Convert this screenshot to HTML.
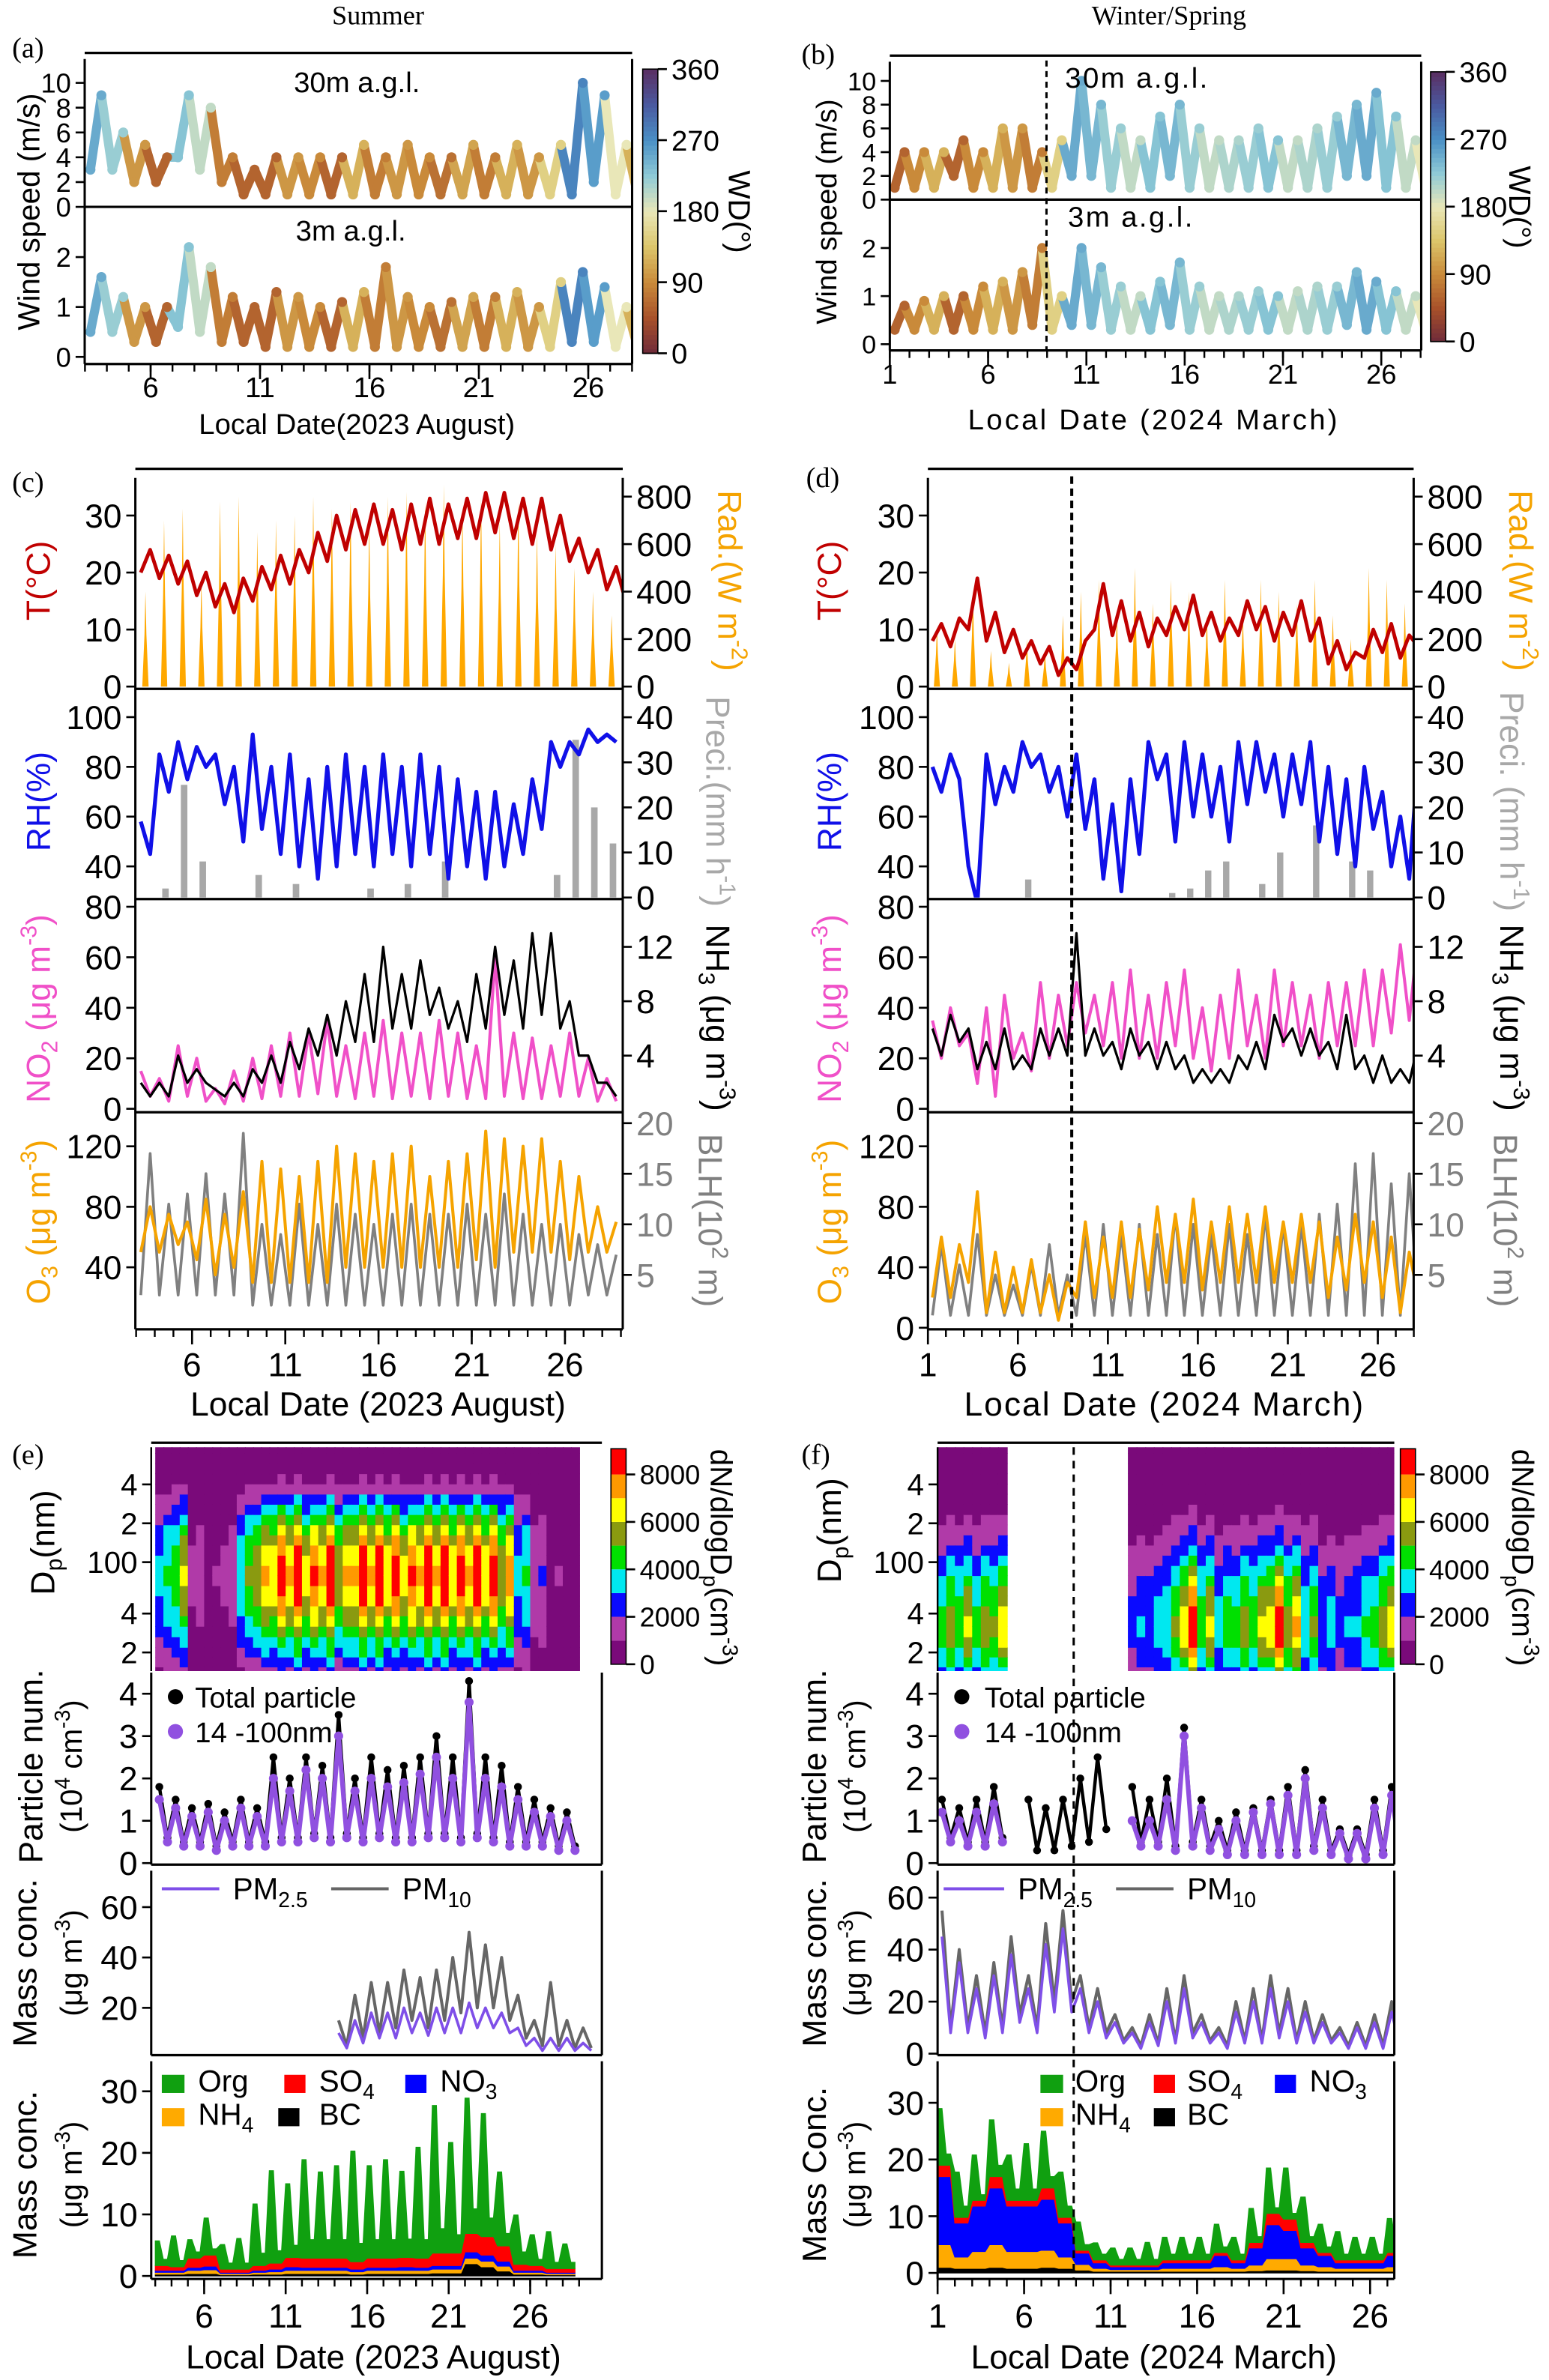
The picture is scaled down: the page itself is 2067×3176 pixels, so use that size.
<!DOCTYPE html>
<html><head><meta charset="utf-8"><title>Meteorology and aerosol time series</title>
<style>html,body{margin:0;padding:0;background:#fff}svg{display:block}text{font-family:"Liberation Sans",Arial,sans-serif}.serif{font-family:"Liberation Serif",serif}</style></head>
<body>
<svg id="fig" xmlns="http://www.w3.org/2000/svg" width="2067" height="3176" viewBox="0 0 1024.3 1573.8" preserveAspectRatio="none">
<rect x="0" y="0" width="1024.3" height="1573.8" fill="#fff"/>
<g id="marks"></g>
<g id="static" fill="#000">
<text class="serif" x="250" y="16" font-size="18" text-anchor="middle">Summer</text>
<text class="serif" x="773" y="16" font-size="18" text-anchor="middle">Winter/Spring</text>
<text class="serif" x="8" y="38" font-size="19">(a)</text>
<text class="serif" x="530" y="42" font-size="19">(b)</text>
<text class="serif" x="8" y="325" font-size="19">(c)</text>
<text class="serif" x="533" y="322" font-size="19">(d)</text>
<text class="serif" x="8" y="968" font-size="19">(e)</text>
<text class="serif" x="530" y="968" font-size="19">(f)</text>

<!-- (a) -->
<text transform="translate(26,140) rotate(-90)" font-size="20" text-anchor="middle">Wind speed (m/s)</text>
<text x="236" y="61" font-size="19" text-anchor="middle">30m a.g.l.</text>
<text x="232" y="159" font-size="19" text-anchor="middle">3m a.g.l.</text>
<text transform="translate(482,140) rotate(90)" font-size="20" text-anchor="middle">WD(°)</text>
<text x="236" y="287" font-size="19" text-anchor="middle">Local Date(2023 August)</text>
<!-- (b) -->
<text transform="translate(553,140) rotate(-90)" font-size="19" text-anchor="middle">Wind speed (m/s)</text>
<text x="752" y="58" font-size="19" text-anchor="middle" letter-spacing="1.2">30m a.g.l.</text>
<text x="748" y="150" font-size="19" text-anchor="middle" letter-spacing="1.2">3m a.g.l.</text>
<text transform="translate(998,137) rotate(90)" font-size="20" text-anchor="middle">WD(°)</text>
<text x="763" y="284" font-size="19" text-anchor="middle" letter-spacing="1.6">Local Date (2024 March)</text>

<!-- (c) -->
<text transform="translate(33,384) rotate(-90)" font-size="22" fill="#c00000" text-anchor="middle">T(°C)</text>
<text transform="translate(33,530) rotate(-90)" font-size="22" fill="#1010e8" text-anchor="middle">RH(%)</text>
<text transform="translate(33,667) rotate(-90)" font-size="22" fill="#f050c8" text-anchor="middle">NO<tspan font-size="15" dy="5">2</tspan><tspan dy="-5"> (μg m</tspan><tspan font-size="15" dy="-9">-3</tspan><tspan dy="9">)</tspan></text>
<text transform="translate(33,808) rotate(-90)" font-size="22" fill="#f5a300" text-anchor="middle">O<tspan font-size="15" dy="5">3</tspan><tspan dy="-5"> (μg m</tspan><tspan font-size="15" dy="-9">-3</tspan><tspan dy="9">)</tspan></text>
<text transform="translate(475,384) rotate(90)" font-size="22" fill="#f5a300" text-anchor="middle">Rad.(W m<tspan font-size="15" dy="-9">-2</tspan><tspan dy="9">)</tspan></text>
<text transform="translate(467,530) rotate(90)" font-size="22" fill="#a8a8a8" text-anchor="middle">Preci.(mm h<tspan font-size="15" dy="-9">-1</tspan><tspan dy="9">)</tspan></text>
<text transform="translate(467,673) rotate(90)" font-size="22" fill="#000" text-anchor="middle">NH<tspan font-size="15" dy="5">3</tspan><tspan dy="-5"> (μg m</tspan><tspan font-size="15" dy="-9">-3</tspan><tspan dy="9">)</tspan></text>
<text transform="translate(462,807) rotate(90)" font-size="22" fill="#808080" text-anchor="middle">BLH(10<tspan font-size="15" dy="-9">2</tspan><tspan dy="9"> m)</tspan></text>
<text x="250" y="936" font-size="22" text-anchor="middle">Local Date (2023 August)</text>
<!-- (d) -->
<text transform="translate(556,384) rotate(-90)" font-size="22" fill="#c00000" text-anchor="middle">T(°C)</text>
<text transform="translate(556,530) rotate(-90)" font-size="22" fill="#1010e8" text-anchor="middle">RH(%)</text>
<text transform="translate(556,667) rotate(-90)" font-size="22" fill="#f050c8" text-anchor="middle">NO<tspan font-size="15" dy="5">2</tspan><tspan dy="-5"> (μg m</tspan><tspan font-size="15" dy="-9">-3</tspan><tspan dy="9">)</tspan></text>
<text transform="translate(556,808) rotate(-90)" font-size="22" fill="#f5a300" text-anchor="middle">O<tspan font-size="15" dy="5">3</tspan><tspan dy="-5"> (μg m</tspan><tspan font-size="15" dy="-9">-3</tspan><tspan dy="9">)</tspan></text>
<text transform="translate(998,384) rotate(90)" font-size="22" fill="#f5a300" text-anchor="middle">Rad.(W m<tspan font-size="15" dy="-9">-2</tspan><tspan dy="9">)</tspan></text>
<text transform="translate(992,530) rotate(90)" font-size="22" fill="#a8a8a8" text-anchor="middle">Preci. (mm h<tspan font-size="15" dy="-9">-1</tspan><tspan dy="9">)</tspan></text>
<text transform="translate(992,673) rotate(90)" font-size="22" fill="#000" text-anchor="middle">NH<tspan font-size="15" dy="5">3</tspan><tspan dy="-5"> (μg m</tspan><tspan font-size="15" dy="-9">-3</tspan><tspan dy="9">)</tspan></text>
<text transform="translate(988,807) rotate(90)" font-size="22" fill="#808080" text-anchor="middle">BLH(10<tspan font-size="15" dy="-9">2</tspan><tspan dy="9"> m)</tspan></text>
<text x="770" y="936" font-size="22" text-anchor="middle" letter-spacing="1">Local Date (2024 March)</text>

<!-- (e) -->
<text transform="translate(36,1020) rotate(-90)" font-size="22" text-anchor="middle">D<tspan font-size="15" dy="5">p</tspan><tspan dy="-5">(nm)</tspan></text>
<text transform="translate(470,1030) rotate(90)" font-size="20" text-anchor="middle">dN/dlogD<tspan font-size="14" dy="5">p</tspan><tspan dy="-5">(cm</tspan><tspan font-size="14" dy="-8">-3</tspan><tspan dy="8">)</tspan></text>
<text transform="translate(28,1168) rotate(-90)" font-size="22" text-anchor="middle">Particle num.</text>
<text transform="translate(54,1168) rotate(-90)" font-size="20" text-anchor="middle">(10<tspan font-size="14" dy="-8">4</tspan><tspan dy="8"> cm</tspan><tspan font-size="14" dy="-8">-3</tspan><tspan dy="8">)</tspan></text>
<text transform="translate(24,1298) rotate(-90)" font-size="22" text-anchor="middle">Mass conc.</text>
<text transform="translate(54,1298) rotate(-90)" font-size="20" text-anchor="middle">(μg m<tspan font-size="14" dy="-8">-3</tspan><tspan dy="8">)</tspan></text>
<text transform="translate(24,1438) rotate(-90)" font-size="22" text-anchor="middle">Mass conc.</text>
<text transform="translate(54,1438) rotate(-90)" font-size="20" text-anchor="middle">(μg m<tspan font-size="14" dy="-8">-3</tspan><tspan dy="8">)</tspan></text>
<text x="247" y="1566" font-size="22" text-anchor="middle">Local Date (2023 August)</text>
<!-- e legends -->
<circle cx="116" cy="1122" r="5" fill="#000"/>
<text x="129" y="1129" font-size="19">Total particle</text>
<circle cx="116" cy="1145" r="5" fill="#9050e0"/>
<text x="129" y="1152" font-size="19">14 -100nm</text>
<line x1="107" y1="1249" x2="145" y2="1249" stroke="#7f4fe8" stroke-width="2"/>
<text x="154" y="1256" font-size="20">PM<tspan font-size="14" dy="5">2.5</tspan></text>
<line x1="219" y1="1249" x2="257" y2="1249" stroke="#666" stroke-width="2"/>
<text x="266" y="1256" font-size="20">PM<tspan font-size="14" dy="5">10</tspan></text>
<rect x="107" y="1372" width="15" height="12" fill="#10a010"/>
<text x="131" y="1383" font-size="20">Org</text>
<rect x="188" y="1372" width="14" height="12" fill="#ff0000"/>
<text x="211" y="1383" font-size="20">SO<tspan font-size="14" dy="5">4</tspan></text>
<rect x="268" y="1372" width="14" height="12" fill="#0000ff"/>
<text x="291" y="1383" font-size="20">NO<tspan font-size="14" dy="5">3</tspan></text>
<rect x="107" y="1394" width="15" height="12" fill="#ffaa00"/>
<text x="131" y="1405" font-size="20">NH<tspan font-size="14" dy="5">4</tspan></text>
<rect x="184" y="1394" width="14" height="12" fill="#000"/>
<text x="211" y="1405" font-size="20">BC</text>

<!-- (f) -->
<text transform="translate(556,1012) rotate(-90)" font-size="22" text-anchor="middle">D<tspan font-size="15" dy="5">p</tspan><tspan dy="-5">(nm)</tspan></text>
<text transform="translate(1000,1030) rotate(90)" font-size="20" text-anchor="middle">dN/dlogD<tspan font-size="14" dy="5">p</tspan><tspan dy="-5">(cm</tspan><tspan font-size="14" dy="-8">-3</tspan><tspan dy="8">)</tspan></text>
<text transform="translate(546,1168) rotate(-90)" font-size="22" text-anchor="middle">Particle num.</text>
<text transform="translate(572,1168) rotate(-90)" font-size="20" text-anchor="middle">(10<tspan font-size="14" dy="-8">4</tspan><tspan dy="8"> cm</tspan><tspan font-size="14" dy="-8">-3</tspan><tspan dy="8">)</tspan></text>
<text transform="translate(546,1298) rotate(-90)" font-size="22" text-anchor="middle">Mass conc.</text>
<text transform="translate(572,1298) rotate(-90)" font-size="20" text-anchor="middle">(μg m<tspan font-size="14" dy="-8">-3</tspan><tspan dy="8">)</tspan></text>
<text transform="translate(546,1438) rotate(-90)" font-size="22" text-anchor="middle">Mass Conc.</text>
<text transform="translate(572,1438) rotate(-90)" font-size="20" text-anchor="middle">(μg m<tspan font-size="14" dy="-8">-3</tspan><tspan dy="8">)</tspan></text>
<text x="763" y="1566" font-size="22" text-anchor="middle">Local Date (2024 March)</text>
<circle cx="636" cy="1122" r="5" fill="#000"/>
<text x="651" y="1129" font-size="19">Total particle</text>
<circle cx="636" cy="1145" r="5" fill="#9050e0"/>
<text x="651" y="1152" font-size="19">14 -100nm</text>
<line x1="624" y1="1249" x2="664" y2="1249" stroke="#7f4fe8" stroke-width="2"/>
<text x="673" y="1256" font-size="20">PM<tspan font-size="14" dy="5">2.5</tspan></text>
<line x1="738" y1="1249" x2="776" y2="1249" stroke="#666" stroke-width="2"/>
<text x="785" y="1256" font-size="20">PM<tspan font-size="14" dy="5">10</tspan></text>
<rect x="688" y="1372" width="15" height="12" fill="#10a010"/>
<text x="711" y="1383" font-size="20">Org</text>
<rect x="763" y="1372" width="14" height="12" fill="#ff0000"/>
<text x="785" y="1383" font-size="20">SO<tspan font-size="14" dy="5">4</tspan></text>
<rect x="843" y="1372" width="14" height="12" fill="#0000ff"/>
<text x="866" y="1383" font-size="20">NO<tspan font-size="14" dy="5">3</tspan></text>
<rect x="688" y="1394" width="15" height="12" fill="#ffaa00"/>
<text x="711" y="1405" font-size="20">NH<tspan font-size="14" dy="5">4</tspan></text>
<rect x="763" y="1394" width="14" height="12" fill="#000"/>
<text x="785" y="1405" font-size="20">BC</text>
</g>
</svg>
<script>
// ---------- data (half-day pairs unless noted) ----------
// Summer starts Aug 3, winter starts Mar 1
const summerDates = [6,11,16,21,26];
const winterDates = [1,6,11,16,21,26];
const ws30Summer = [3,9, 3,6, 2,5, 2,4, 4,9, 3,8, 2,4, 1,3, 1,4, 1,4, 1,4, 1,4, 1,5, 1,4, 1,5, 1,4, 1,4, 1,5, 1,4, 1,5, 1,4, 1,5, 1,10, 2,9, 1,5, 1,4];
const ws3Summer = [0.5,1.6, 0.5,1.2, 0.3,1.0, 0.3,1.0, 0.6,2.2, 0.5,1.8, 0.3,1.2, 0.3,1.0, 0.2,1.3, 0.2,1.2, 0.2,1.0, 0.2,1.1, 0.2,1.3, 0.2,1.8, 0.2,1.2, 0.2,1.0, 0.2,1.1, 0.2,1.2, 0.2,1.2, 0.2,1.3, 0.2,1.0, 0.2,1.5, 0.3,1.7, 0.3,1.4, 0.2,1.0, 0.2,0.8];
const wdSummer = [250,220,100,60,230,200,80,60,60,100,90,60,120,80,100,90,70,110,80,120,100,150,280,260,180,120]; // daily
const ws30Winter = [1,4, 1,4, 1,4, 2,5, 1,4, 1,6, 1,6, 1,4, 1,5, 2,10, 2,8, 1,6, 1,5, 1,7, 2,8, 1,6, 1,5, 1,5, 1,6, 1,5, 1,5, 1,6, 1,7, 2,8, 2,9, 1,7, 1,5, 1,5];
const ws3Winter = [0.3,0.8, 0.3,0.9, 0.3,1.0, 0.3,1.0, 0.3,1.2, 0.3,1.3, 0.3,1.5, 0.4,2.0, 0.3,1.0, 0.4,2.0, 0.4,1.6, 0.3,1.2, 0.3,1.0, 0.3,1.3, 0.4,1.7, 0.3,1.2, 0.3,1.0, 0.3,1.0, 0.3,1.1, 0.3,1.0, 0.3,1.1, 0.3,1.2, 0.3,1.2, 0.4,1.5, 0.3,1.3, 0.3,1.1, 0.3,1.0, 0.3,0.9];
const wdWinter = [60,90,120,60,90,120,100,80,150,250,240,220,200,230,240,220,200,210,220,230,200,210,220,240,250,230,200,180];

const tempSummer = [20,24, 19,23, 18,22, 16,20, 14,18, 13,19, 15,21, 17,23, 18,24, 20,27, 22,30, 24,31, 25,32, 25,31, 24,32, 25,33, 25,32, 26,33, 26,34, 27,34, 26,33, 25,33, 24,30, 22,26, 20,24, 17,21, 15,18, 13,15];
const radSummer = [400,700,750,450,780,800,650,700,720,800,750,780,700,800,820,780,850,760,800,700,780,650,600,500,400,300]; // daily peak
const tempWinter = [8,11, 7,12, 10,19, 8,13, 6,10, 5,8, 4,7, 2,5, 3,8, 10,18, 9,15, 8,13, 7,12, 9,14, 10,16, 9,13, 8,12, 9,15, 10,14, 8,13, 9,15, 8,12, 4,8, 3,6, 5,10, 6,11, 5,9, 7,20];
const radWinter = [250,200,400,150,100,200,150,300,400,450,300,500,350,450,400,300,450,300,450,400,350,450,300,200,500,450,350,500];

const rhSummer = [58,45, 85,70, 90,75, 88,80, 85,65, 80,50, 93,55, 80,45, 85,40, 75,35, 80,40, 85,45, 80,40, 85,45, 80,40, 85,45, 80,35, 75,40, 70,35, 70,40, 65,45, 75,55, 90,80, 90,85, 95,90, 93,90];
const preciSummer = [0,2,25,8,0,0,5,0,3,0,0,0,2,0,3,0,8,0,0,0,0,0,5,35,20,12]; // daily
const rhWinter = [80,70, 85,75, 40,25, 85,65, 80,70, 90,80, 85,70, 80,60, 85,55, 75,35, 65,30, 75,45, 90,75, 85,50, 90,60, 85,60, 80,50, 90,65, 90,70, 85,60, 85,65, 90,50, 80,45, 75,40, 80,55, 70,40, 60,35, 85,55];
const preciWinter = [0,0,0,0,0,4,0,0,0,0,0,0,0,1,2,6,8,0,3,10,0,16,0,8,6,0,0,5];

const no2Summer = [15,5, 12,3, 25,5, 20,3, 8,2, 15,3, 20,4, 25,5, 30,5, 30,6, 35,5, 25,4, 30,5, 35,4, 30,5, 30,4, 35,5, 30,4, 25,4, 60,5, 30,4, 28,4, 25,5, 30,5, 20,3, 12,3];
const nh3Summer = [2,1, 2,1, 4,2, 3,2, 1.5,1, 2,1, 3,2, 4,2, 5,3, 6,4, 7,4, 8,5, 10,5, 12,6, 10,6, 11,7, 9,6, 8,5, 10,6, 12,7, 11,6, 13,7, 13,6, 8,4, 4,2, 2,1];
const no2Winter = [35,20, 40,25, 30,10, 40,5, 45,20, 30,15, 50,20, 45,25, 50,30, 45,25, 50,20, 55,20, 45,20, 50,25, 55,20, 40,15, 45,20, 55,25, 45,20, 55,25, 50,25, 45,20, 50,25, 50,25, 55,25, 55,30, 65,35, 70,30];
const nh3Winter = [6,4, 7,5, 6,3, 5,3, 6,3, 4,3, 6,4, 6,4, 13,4, 6,4, 5,3, 6,4, 5,3, 5,3, 4,2, 3,2, 3,2, 4,3, 5,3, 7,5, 6,4, 6,4, 5,3, 7,3, 4,2, 4,2, 3,2, 5,4];

const o3Summer = [50,80, 50,75, 55,70, 45,85, 35,75, 40,90, 30,110, 30,105, 30,100, 30,110, 30,120, 40,115, 40,110, 40,115, 40,120, 40,100, 40,110, 40,115, 45,130, 40,125, 50,120, 50,125, 50,110, 45,100, 50,80, 50,70];
const blhSummer = [3,17, 3,12, 3,13, 3,15, 3,13, 3,19, 2,10, 2,9, 2,12, 2,10, 2,12, 2,11, 2,10, 2,11, 2,12, 2,11, 2,11, 2,12, 2,11, 2,13, 2,11, 2,10, 2,10, 2,9, 3,8, 3,7];
const o3Winter = [20,60, 20,55, 30,90, 10,50, 10,40, 10,45, 10,35, 5,30, 20,70, 20,60, 20,70, 20,65, 25,80, 30,75, 30,85, 25,70, 30,80, 30,75, 30,80, 30,70, 30,75, 30,70, 20,60, 25,75, 30,70, 20,60, 10,50, 20,50];
const blhWinter = [1,8, 1,6, 1,9, 1,5, 1,4, 1,6, 1,8, 1,5, 1,9, 1,10, 1,9, 1,10, 1,9, 1,11, 1,10, 1,9, 1,10, 1,9, 1,11, 1,10, 1,10, 1,11, 1,12, 1,16, 1,17, 1,14, 1,15, 1,10];

// size distribution: daily peak dN/dlogDp and size profile
const dpBins = [14,17,20,24,29,35,42,50,60,72,86,103,124,148,178,213,256,307,368,442,530,636,763];
const profileSummer = [0.25,0.35,0.45,0.55,0.65,0.75,0.85,0.92,0.97,1,1,0.97,0.92,0.85,0.75,0.62,0.48,0.35,0.22,0.12,0.06,0.03,0.01];
const profileWinter = [0.6,0.75,0.85,0.95,1,1,0.95,0.9,0.85,0.75,0.65,0.55,0.45,0.35,0.28,0.2,0.14,0.09,0.05,0.03,0.01,0,0];
const peakNSummer = [4000,6000,1500,1000,1500,5000,7000,8500,9000,8000,9000,7000,9000,9000,8500,8000,9000,9000,8500,9000,8500,7500,4000,2000,1000,800];
const peakNWinter = [5500,6000,5500,6500,null,null,null,null,null,null,null,3000,3500,5000,8500,6000,4500,5500,6000,8500,7000,5000,3500,3000,4000,5500,8500,7000];

const totalPNSummer = [1.8,0.6, 1.5,0.5, 1.3,0.5, 1.4,0.4, 1.2,0.5, 1.5,0.5, 1.3,0.5, 2.5,0.6, 2.0,0.6, 2.5,0.7, 2.3,0.6, 3.5,0.7, 2.0,0.6, 2.5,0.7, 2.2,0.6, 2.3,0.6, 2.5,0.7, 3.0,0.7, 2.5,0.6, 4.3,0.7, 2.5,0.6, 2.3,0.5, 1.8,0.5, 1.5,0.5, 1.3,0.4, 1.2,0.4];
const smallPNSummer = [1.5,0.5, 1.3,0.4, 1.1,0.4, 1.2,0.3, 1.0,0.4, 1.3,0.4, 1.1,0.4, 2.0,0.5, 1.7,0.5, 2.2,0.6, 2.0,0.5, 3.0,0.6, 1.7,0.5, 2.0,0.6, 1.8,0.5, 1.9,0.5, 2.1,0.6, 2.5,0.6, 2.0,0.5, 3.8,0.6, 2.0,0.5, 1.8,0.4, 1.5,0.4, 1.2,0.4, 1.1,0.3, 1.0,0.3];
const totalPNWinter = [1.5,0.6, 1.3,0.5, 1.5,0.5, 1.8,0.6, null,null, 1.5,0.3, 1.3,0.3, 1.5,0.4, 2.0,0.5, 2.5,0.8, null,null, 1.8,0.5, 1.5,0.5, 2.0,0.4, 3.2,0.5, 1.5,0.4, 1.0,0.3, 1.2,0.3, 1.3,0.3, 1.5,0.3, 1.8,0.3, 2.2,0.4, 1.5,0.3, 0.8,0.2, 0.8,0.2, 1.5,0.3, 1.8,0.3, 1.2,0.3];
const smallPNWinter = [1.2,0.5, 1.0,0.4, 1.2,0.4, 1.4,0.5, null,null, null,null, null,null, null,null, null,null, null,null, null,null, 1.0,0.4, 1.0,0.4, 1.5,0.3, 3.0,0.4, 1.3,0.3, 0.8,0.2, 1.0,0.2, 1.2,0.2, 1.4,0.2, 1.6,0.2, 2.0,0.3, 1.3,0.2, 0.7,0.1, 0.7,0.1, 1.3,0.2, 1.6,0.2, 1.0,0.2];

const pm10Summer = [15,5, 25,8, 30,10, 30,12, 35,15, 32,12, 35,15, 40,18, 50,20, 45,20, 40,15, 25,8, 15,5, 30,5, 15,4, 12,4]; // from Aug 14
const pm25Summer = [10,4, 15,6, 18,8, 18,8, 20,10, 18,9, 20,10, 20,10, 22,12, 20,12, 18,10, 12,5, 8,3, 8,3, 8,3, 6,3];
const pm10Winter = [55,10, 40,10, 30,8, 35,10, 45,15, 30,10, 50,20, 55,20, 30,10, 25,8, 15,5, 10,3, 15,4, 25,5, 30,8, 15,5, 10,3, 20,5, 25,5, 30,8, 25,5, 20,5, 15,5, 10,3, 12,3, 15,3, 20,3, 12,3];
const pm25Winter = [45,8, 35,8, 25,6, 30,8, 38,12, 25,8, 42,16, 48,16, 25,8, 20,6, 12,4, 8,2, 12,3, 20,4, 25,6, 12,4, 8,2, 16,4, 20,4, 25,6, 20,4, 16,4, 12,4, 8,2, 10,2, 12,2, 16,2, 10,2];

const orgSummer = [4,1, 5,1, 3,1, 6,1, 4,1, 5,1, 10,2, 15,2, 12,2, 16,3, 14,3, 15,3, 18,3, 15,3, 16,3, 14,3, 18,3, 24,4, 18,3, 22,4, 20,3, 12,2, 8,2, 5,1, 6,1, 4,1];
const so4Summer = [0.8,0.6,1.5,1.8,0.5,0.5,0.8,1,1.5,1.5,1.5,1.5,1.2,1.5,1.5,1.5,1.5,2,2,3,3,2.5,1,0.8,0.6,0.6]; // daily
const no3Summer = [0.3,0.3,0.5,0.6,0.2,0.2,0.3,0.4,0.6,0.5,0.5,0.5,0.4,0.5,0.5,0.6,0.5,0.6,0.6,1,1,0.8,0.3,0.3,0.2,0.2];
const nh4Summer = [0.3,0.3,0.5,0.6,0.2,0.2,0.3,0.4,0.5,0.5,0.5,0.5,0.4,0.5,0.5,0.5,0.5,0.6,0.6,0.9,0.9,0.8,0.3,0.3,0.2,0.2];
const bcSummer = [0.3,0.3,0.4,0.4,0.2,0.2,0.3,0.3,0.4,0.4,0.4,0.4,0.3,0.4,0.4,0.4,0.4,0.5,0.5,2,1.5,0.8,0.3,0.3,0.2,0.2];
const orgWinter = [10,2, 8,2, 8,1, 10,2, 8,2, 10,2, 10,2, 8,2, 5,1, 3,1, 3,1, 3,1, 4,1, 4,1, 4,1, 4,1, 5,1, 4,1, 6,1, 8,1, 9,1, 8,1, 5,1, 5,1, 4,1, 4,1, 6,1, 7,1];
const no3Winter = [12,6,8,10,8,8,9,6,2,1,0.5,0.5,0.5,1,1,1,2,1,3,6,5,3,2,1,1,1,2,2];
const so4Winter = [2,1,1,2,1,1,2,1,0.5,0.5,0.3,0.3,0.3,0.5,0.5,0.5,0.5,0.5,1,2,2,1,0.5,0.5,0.5,0.5,0.5,0.5];
const nh4Winter = [4,2,3,4,3,3,3,2,1,0.5,0.3,0.3,0.3,0.5,0.5,0.5,0.8,0.5,1,2,2,1,0.8,0.5,0.5,0.5,0.8,0.8];
const bcWinter = [1,0.8,0.8,1,0.8,0.8,1,0.8,0.5,0.3,0.3,0.3,0.3,0.3,0.3,0.3,0.3,0.3,0.4,0.5,0.5,0.4,0.3,0.3,0.3,0.3,0.3,0.3];

const tickWS30 = [0,2,4,6,8,10], tickWS3 = [0,1,2], tickWD = [0,90,180,270,360];
const tickT = [0,10,20,30], tickRad = [0,200,400,600,800], tickRH = [40,60,80,100], tickPreci = [0,10,20,30,40];
const tickNO2 = [0,20,40,60,80], tickNH3 = [4,8,12], tickO3s = [40,80,120], tickO3w = [0,40,80,120], tickBLH = [5,10,15,20];
const tickHeat = [0,2000,4000,6000,8000], tickDp = [20,40,100,200,400], tickDpLabel = ['2','4','100','2','4'];
const tickPN = [0,1,2,3,4], tickMassS = [20,40,60], tickMassW = [0,20,40,60], tickChem = [0,10,20,30];

// ---------- drawing ----------
const NS='http://www.w3.org/2000/svg';
const root=document.getElementById('marks');
function mk(tag,attrs,parent){const e=document.createElementNS(NS,tag);for(const k in attrs)e.setAttribute(k,attrs[k]);(parent||root).appendChild(e);return e;}
const AX={
 a:{x0:99.6,d0:6,k:14.47,L:56,R:418},
 b:{x0:588.4,d0:1,k:13.0,L:588.4,R:939.8},
 c:{x0:127,d0:6,k:12.33,L:89.5,R:411.8},
 d:{x0:613.6,d0:1,k:11.9,L:613.6,R:934.8},
 e:{x0:135,d0:6,k:10.78,L:100,R:398},
 f:{x0:620,d0:1,k:11.44,L:620,R:922}};
function X(ax,d){return ax.x0+(d-ax.d0)*ax.k;}
function HX(ax,start,i){return X(ax,start+i*0.5+0.25);}
function sc(y0,s){return v=>y0-v*s;}
let clipN=0;
function clipG(x,y,w,h){const id='cp'+(clipN++);const cp=mk('clipPath',{id:id});mk('rect',{x:x,y:y,width:w,height:h},cp);return mk('g',{'clip-path':'url(#'+id+')'});}
function lerpHex(a,b,t){const pa=[1,3,5].map(i=>parseInt(a.substr(i,2),16)),pb=[1,3,5].map(i=>parseInt(b.substr(i,2),16));return 'rgb('+pa.map((v,i)=>Math.round(v+(pb[i]-v)*t)).join(',')+')';}
const wdStops=[[0,'#6e2a3a'],[45,'#a8512a'],[90,'#c98a3a'],[135,'#dcc56a'],[180,'#e9e7b8'],[225,'#8fcad6'],[270,'#4a90c6'],[315,'#4a5aa0'],[360,'#5a2e62']];
function wdColor(v){for(let i=1;i<wdStops.length;i++){if(v<=wdStops[i][0]){const a=wdStops[i-1],b=wdStops[i];return lerpHex(a[1],b[1],(v-a[0])/(b[0]-a[0]));}}return wdStops[8][1];}
const heatCols=['#7a0a7a','#b03aa8','#0a0aff','#00e8f0','#00e000','#8a9a10','#ffff00','#ff9900','#ff0000'];
function heatColor(v){return heatCols[Math.max(0,Math.min(8,Math.floor(v/1000)))];}
function line(x1,y1,x2,y2,w,col,parent){return mk('line',{x1:x1,y1:y1,x2:x2,y2:y2,stroke:col||'#000','stroke-width':w||1.3},parent);}
function txt(x,y,s,size,anchor,col){const t=mk('text',{x:x,y:y,'font-size':size,'text-anchor':anchor||'middle',fill:col||'#000'});t.textContent=s;return t;}

function yTicks(xAxis,side,vals,yf,size,labels,col){
  vals.forEach((v,i)=>{const y=yf(v);const dir=side==='L'?-1:1;
    const tk=line(xAxis,y,xAxis+dir*6,y,1.3);
    
    
    const t=txt(xAxis+dir*9,y+size*0.36,labels?labels[i]:String(v),size,side==='L'?'end':'start',col);
    
    });
}
function xTicks(ax,yAxis,dates,size,labY,dayStart,dayEnd){
  for(let d=dayStart;d<=dayEnd;d++){const x=X(ax,d);if(x<ax.L-0.5||x>ax.R+0.5)continue;line(x,yAxis,x,yAxis+5,1.2);}
  dates.forEach(d=>{const x=X(ax,d);line(x,yAxis,x,yAxis+10,1.3);
    const t=txt(x,labY,String(d),size,'middle');
    
    });
}
function poly(ax,start,arr,yf,col,w,parent,name){
  let seg=[];const segs=[];
  arr.forEach((v,i)=>{if(v==null){if(seg.length)segs.push(seg);seg=[];}else seg.push(HX(ax,start,i).toFixed(1)+','+yf(v).toFixed(1));});
  if(seg.length)segs.push(seg);
  segs.forEach(s=>{const p=mk('polyline',{points:s.join(' '),fill:'none',stroke:col,'stroke-width':w,'stroke-linejoin':'round'},parent);
    
    });
}
function dots(ax,start,arr,yf,col,r,parent,name){
  arr.forEach((v,i)=>{if(v==null)return;const c=mk('circle',{cx:HX(ax,start,i),cy:yf(v),r:r,fill:col},parent);
    
    });
}
function windSeries(ax,start,arr,wd,yf,parent,name){
  for(let i=1;i<arr.length;i++){const col=wdColor(wd[i>>1]);
    const l=line(HX(ax,start,i-1),yf(arr[i-1]),HX(ax,start,i),yf(arr[i]),6,col,parent);
    l.setAttribute('stroke-linecap','round');
    
    }
  arr.forEach((v,i)=>{const c=mk('circle',{cx:HX(ax,start,i),cy:yf(v),r:3.3,fill:wdColor(wd[i>>1])},parent);
    
    });
}
function colorbarWD(x,yTop,yBot,labX){
  const n=60;for(let i=0;i<n;i++){const v0=360*i/n;const yA=yBot-(yBot-yTop)*(i+1)/n;
    const r=mk('rect',{x:x,y:yA,width:10,height:(yBot-yTop)/n+0.5,fill:wdColor(v0+3)});
    
    }
  mk('rect',{x:x,y:yTop,width:10,height:yBot-yTop,fill:'none',stroke:'#000','stroke-width':0.8});
  const yf=v=>yBot-(yBot-yTop)*v/360;
  yTicks(x+10,'R',tickWD,yf,19);
}
function colorbarHeat(x,yTop,yZero,labX){
  const yf=v=>yZero-(yZero-975)*v/8000;
  for(let b=0;b<9;b++){const y1=yf(b*1000),y2=b===8?yTop:yf((b+1)*1000);
    const r=mk('rect',{x:x,y:y2,width:10,height:y1-y2,fill:heatCols[b]});
    
    }
  mk('rect',{x:x,y:yTop,width:10,height:yZero-yTop,fill:'none',stroke:'#000','stroke-width':0.8});
  yTicks(x+10,'R',tickHeat,yf,18);
}
function val(arr,i){return arr.length*2<=i?0:(arr.length*2===arr.length*2&&arr.lengthHalf?0:0);}
function comp(arr,i,N){return arr.length===N?arr[i]:arr[i>>1];}
function stack(ax,start,layers,cols,yf,parent,names){
  const N=layers[layers.length-1].length;
  const base=new Array(N).fill(0);
  layers.forEach((L,li)=>{const top=[];for(let i=0;i<N;i++)top.push(base[i]+comp(L,i,N));
    let pts=[];for(let i=0;i<N;i++){const x0=X(ax,start+i*0.5),x1=X(ax,start+i*0.5+0.5);pts.push(x0.toFixed(1)+','+yf(top[i]).toFixed(1));pts.push(((x0+x1)/2).toFixed(1)+','+yf(top[i]).toFixed(1));}
    for(let i=N-1;i>=0;i--){const x0=X(ax,start+i*0.5),x1=X(ax,start+i*0.5+0.5);pts.push(((x0+x1)/2).toFixed(1)+','+yf(base[i]).toFixed(1));pts.push(x0.toFixed(1)+','+yf(base[i]).toFixed(1));}
    const p=mk('polygon',{points:pts.join(' '),fill:cols[li],stroke:cols[li],'stroke-width':0.6},parent);
    
    
    for(let i=0;i<N;i++)base[i]=top[i];});
}
function heatmap(ax,start,peaks,prof,parent,name){
  const yb=d=>1033-(Math.log10(d)-2)*85.4;
  for(let i=0;i<peaks.length*2;i++){const pk=peaks[i>>1];if(pk==null)continue;const f=(i%2)?1:0.78;
    const x0=X(ax,start+i*0.5),w=ax.k*0.5+0.6;
    for(let j=0;j<dpBins.length;j++){const yTop=j===dpBins.length-1?950:yb((dpBins[j]+dpBins[j+1])/2),yBot=j===0?1110:yb((dpBins[j-1]+dpBins[j])/2);
      const r=mk('rect',{x:x0,y:yTop,width:w,height:yBot-yTop+0.4,fill:heatColor(pk*prof[j]*f)},parent);
      
      }}
}
function frameBox(L,R,top,bot){line(L,top,L,bot,1.5);line(R,top,R,bot,1.5);}

// ===== (a) & (b) wind =====
[['a',3,ws30Summer,ws3Summer,wdSummer,{t:35,s1:136.8,b:240.7,y30:sc(136.8,8.2),y3:sc(236,33)},summerDates,425],
 ['b',1,ws30Winter,ws3Winter,wdWinter,{t:36.8,s1:132,b:231.7,y30:sc(132,7.85),y3:sc(227.6,31.8)},winterDates,946]].forEach(c=>{
  const [id,st,w30,w3,wd,g,dates,cbx]=c;const ax=AX[id];
  const g1=clipG(ax.L,g.t+2,ax.R-ax.L,g.s1-g.t-2);windSeries(ax,st,w30,wd,g.y30,g1,id+'-ws30');
  const g2=clipG(ax.L,g.s1+1,ax.R-ax.L,g.b-g.s1-1);windSeries(ax,st,w3,wd,g.y3,g2,id+'-ws3');
  line(ax.L,g.t,ax.R,g.t,1.6);line(ax.L,g.s1,ax.R,g.s1,1.6);line(ax.L,g.b,ax.R,g.b,1.6);
  frameBox(ax.L,ax.R,g.t+4,g.b);
  yTicks(ax.L,'L',tickWS30,g.y30,id==='a'?18:17);yTicks(ax.L,'L',tickWS3,g.y3,id==='a'?18:17);
  xTicks(ax,g.b,dates,id==='a'?19:18,g.b+22,1,29);
  colorbarWD(cbx,id==='a'?45.7:47.5,id==='a'?233.6:225.8);
  if(id==='b'){const dl=line(692,40,692,g.b,1.5);dl.setAttribute('stroke-dasharray','4,3');}
});

// ===== (c) & (d) meteorology and gases =====
const yT=sc(454,3.77),yRad=sc(454,0.157),yRH=sc(638.7,1.645),yPre=sc(593.5,2.98),yNO2=sc(733.2,1.67),yNH3=sc(734,8.99),yO3=sc(878,1.0),yBLH=sc(876.5,6.69);
[['c',3,tempSummer,radSummer,rhSummer,preciSummer,no2Summer,nh3Summer,o3Summer,blhSummer,summerDates,tickO3s],
 ['d',1,tempWinter,radWinter,rhWinter,preciWinter,no2Winter,nh3Winter,o3Winter,blhWinter,winterDates,tickO3w]].forEach(c=>{
  const [id,st,T,Rad,RH,Pre,NO2,NH3,O3,BLH,dates,o3t]=c;const ax=AX[id];const W=ax.R-ax.L;
  // temperature panel
  const g1=clipG(ax.L,312,W,142.5);
  Rad.forEach((v,i)=>{const xc=X(ax,st+i+0.5),hw=ax.k*0.17;
    const p=mk('polygon',{points:(xc-hw)+','+yRad(0)+' '+(xc-hw*0.3)+','+yRad(v*0.55)+' '+xc+','+yRad(v)+' '+(xc+hw*0.3)+','+yRad(v*0.55)+' '+(xc+hw)+','+yRad(0),fill:'#ffa800'},g1);
    
    });
  poly(ax,st,T,yT,'#c00000',2.4,g1,id+'-temperature-line');
  // RH panel
  const g2=clipG(ax.L,458,W,135.5);
  Pre.forEach((v,i)=>{if(!v)return;const x=X(ax,st+i+0.4);const r=mk('rect',{x:x,y:yPre(v),width:ax.k*0.35,height:yPre(0)-yPre(v),fill:'#a8a8a8'},g2);
    
    });
  poly(ax,st,RH,yRH,'#1010e8',2.6,g2,id+'-rh-line');
  // NO2/NH3 panel
  const g3=clipG(ax.L,595,W,139);
  poly(ax,st,NO2,yNO2,'#f050c8',2,g3,id+'-no2-line');
  poly(ax,st,NH3,yNH3,'#000',1.6,g3,id+'-nh3-line');
  // O3/BLH panel
  const g4=clipG(ax.L,737,W,141);
  poly(ax,st,BLH,yBLH,'#808080',1.8,g4,id+'-blh-line');
  poly(ax,st,O3,yO3,'#f5a300',2,g4,id+'-o3-line');
  line(ax.L,310,ax.R,310,1.6);[455.5,594.5,735.5,879].forEach(y=>line(ax.L,y,ax.R,y,1.6));
  frameBox(ax.L,ax.R,316,879);
  yTicks(ax.L,'L',tickT,yT,22);yTicks(ax.R,'R',tickRad,yRad,22);
  yTicks(ax.L,'L',tickRH,yRH,22);yTicks(ax.R,'R',tickPreci,yPre,22);
  yTicks(ax.L,'L',tickNO2,yNO2,22);yTicks(ax.R,'R',tickNH3,yNH3,22);
  yTicks(ax.L,'L',o3t,yO3,22);yTicks(ax.R,'R',tickBLH,yBLH,22,null,'#808080');
  xTicks(ax,879,dates,22,910,1,29);
  if(id==='d'){const dl=line(708.7,315,708.7,878,2);dl.setAttribute('stroke-dasharray','5,3');}
});

// ===== (e) & (f) aerosol =====
const yDp=d=>1033-(Math.log10(d)-2)*85.4;
const yPN=sc(1232,28);
[['e',3,peakNSummer,profileSummer,totalPNSummer,smallPNSummer,14,pm10Summer,pm25Summer,sc(1361,1.665),tickMassS,[bcSummer,nh4Summer,no3Summer,so4Summer,orgSummer],sc(1505,4.07),summerDates,404],
 ['f',1,peakNWinter,profileWinter,totalPNWinter,smallPNWinter,1,pm10Winter,pm25Winter,sc(1358,1.72),tickMassW,[bcWinter,nh4Winter,no3Winter,so4Winter,orgWinter],sc(1503,3.75),winterDates,926]].forEach(c=>{
  const [id,st,peaks,prof,tot,small,pmSt,pm10,pm25,yM,mt,layers,yC,dates,cbx]=c;const ax=AX[id];const W=ax.R-ax.L;
  // heatmap
  const g1=clipG(ax.L,957,W,148);
  heatmap(ax,st,peaks,prof,g1,id+'-size-distribution-cell');
  line(ax.L,954,ax.R,954,1.6);
  line(ax.L,957,ax.L,1105,1.2);
  yTicks(ax.L,'L',tickDp,yDp,20,tickDpLabel);
  colorbarHeat(cbx,958,1100.5);
  // particle number
  const g2=clipG(ax.L,1106,W,128);
  poly(ax,st,tot,yPN,'#000',2.2,g2,id+'-total-particle-line');
  dots(ax,st,tot,yPN,'#000',2.6,g2,id+'-total-particle-point');
  poly(ax,st,small,yPN,'#9050e0',3,g2,id+'-small-particle-line');
  dots(ax,st,small,yPN,'#9050e0',3,g2,id+'-small-particle-point');
  line(ax.L,1233,ax.R,1233,1.6);frameBox(ax.L,ax.R,1106,1233);
  yTicks(ax.L,'L',tickPN,yPN,22);
  // mass concentration
  const g3=clipG(ax.L,1237,W,122);
  poly(ax,pmSt,pm10,yM,'#666',2,g3,id+'-pm10-line');
  poly(ax,pmSt,pm25,yM,'#7f4fe8',1.8,g3,id+'-pm25-line');
  line(ax.L,1359,ax.R,1359,1.6);frameBox(ax.L,ax.R,1237,1359);
  yTicks(ax.L,'L',mt,yM,22);
  // chemical composition
  const g4=clipG(ax.L,1363,W,144);
  stack(ax,st,layers,['#000','#ffaa00','#0000ff','#ff0000','#10a010'],yC,g4,[id+'-bc-area',id+'-nh4-area',id+'-no3-area',id+'-so4-area',id+'-org-area']);
  line(ax.L,1507,ax.R,1507,1.6);frameBox(ax.L,ax.R,1363,1507);
  yTicks(ax.L,'L',tickChem,yC,22);
  xTicks(ax,1507,dates,22,1539,1,29);
  if(id==='f'){const dl=line(710,957,710,1507,1.5);dl.setAttribute('stroke-dasharray','5,4');}
});
</script>
</body></html>
